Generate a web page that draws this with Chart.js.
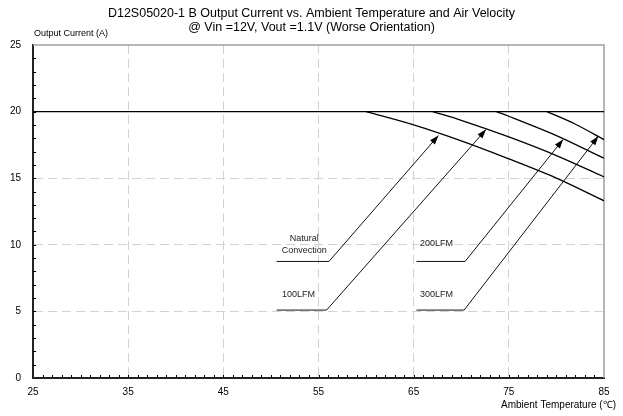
<!DOCTYPE html>
<html>
<head>
<meta charset="utf-8">
<script src="https://cdn.jsdelivr.net/npm/chart.js@4.4.0/dist/chart.umd.min.js"></script>
<style>
  html, body { margin: 0; padding: 0; background: #fff; }
  #wrap { width: 623px; height: 416px; }
</style>
</head>
<body>
<div id="wrap"><canvas id="derating" width="623" height="416"></canvas></div>
<script>
// Derating curves (temperature in C, current in A)
const titleLines = [
  "D12S05020-1 B Output Current vs. Ambient Temperature and Air Velocity",
  "@ Vin =12V, Vout =1.1V (Worse Orientation)",
];
const tempTicks = [25, 35, 45, 55, 65, 75, 85];
const currentTicks = [0, 5, 10, 15, 20, 25];

const limitTemp = [25, 85];
const limitCurrent = [20, 20];
const naturalTemp = [60, 65, 70, 75, 80, 85];
const naturalCurrent = [20, 19.0, 17.8, 16.45, 15.0, 13.3];
const lfm100Temp = [67, 70, 75, 80, 85];
const lfm100Current = [20, 19.35, 18.1, 16.7, 15.1];
const lfm200Temp = [73.7, 75, 80, 85];
const lfm200Current = [20, 19.65, 18.2, 16.5];
const lfm300Temp = [79, 82, 85];
const lfm300Current = [20, 19.05, 17.9];

// leader lines: underline start, underline end, arrow tip
const naturalArrowTemp = [50.6, 56.1, 67.6];
const naturalArrowCurrent = [8.75, 8.75, 18.2];
const lfm100ArrowTemp = [50.6, 55.85, 72.6];
const lfm100ArrowCurrent = [5.1, 5.1, 18.65];
const lfm200ArrowTemp = [65.3, 70.4, 80.7];
const lfm200ArrowCurrent = [8.75, 8.75, 17.9];
const lfm300ArrowTemp = [65.3, 70.3, 84.4];
const lfm300ArrowCurrent = [5.1, 5.1, 18.15];

const labelText = ["Natural", "Convection", "100LFM", "200LFM", "300LFM"];
const labelTemp = [53.5, 53.5, 52.9, 67.4, 67.4];
const labelCurrent = [10.5, 9.55, 6.25, 10.1, 6.25];

const FONT = '"Liberation Sans", Arial, sans-serif';

function pts(xs, ys) {
  return xs.map((x, i) => ({ x: x, y: ys[i] }));
}

function curve(label, xs, ys) {
  return {
    label: label,
    data: pts(xs, ys),
    showLine: true,
    borderColor: "#000",
    borderWidth: 1.3,
    pointRadius: 0,
    cubicInterpolationMode: "monotone",
    fill: false,
  };
}

function leader(label, xs, ys) {
  return {
    label: label,
    data: pts(xs, ys),
    showLine: true,
    borderColor: "#111",
    borderWidth: 1,
    pointRadius: 0,
    tension: 0,
    fill: false,
    isLeader: true,
  };
}

const extras = {
  id: "extras",
  beforeDatasetsDraw(chart) {
    const ctx = chart.ctx;
    const area = chart.chartArea;
    const xs = chart.scales.x;
    const ys = chart.scales.y;
    ctx.save();
    // grey frame on top and right
    ctx.strokeStyle = "#a0a0a0";
    ctx.lineWidth = 1.5;
    ctx.beginPath();
    ctx.moveTo(area.left, area.top);
    ctx.lineTo(area.right, area.top);
    ctx.lineTo(area.right, area.bottom);
    ctx.stroke();
    // small inner ticks
    ctx.strokeStyle = "#000";
    ctx.lineWidth = 1;
    ctx.beginPath();
    for (let t = 26; t < 85; t++) {
      const px = Math.round(xs.getPixelForValue(t)) + 0.5;
      ctx.moveTo(px, area.bottom);
      ctx.lineTo(px, area.bottom - 3);
    }
    for (let a = 1; a < 25; a++) {
      const py = Math.round(ys.getPixelForValue(a)) + 0.5;
      ctx.moveTo(area.left, py);
      ctx.lineTo(area.left + 3, py);
    }
    ctx.stroke();
    ctx.restore();
  },
  afterDatasetsDraw(chart) {
    const ctx = chart.ctx;
    const area = chart.chartArea;
    const xs = chart.scales.x;
    const ys = chart.scales.y;
    ctx.save();
    // arrow heads at the end of each leader line
    ctx.fillStyle = "#000";
    chart.data.datasets.forEach((ds) => {
      if (!ds.isLeader) return;
      const n = ds.data.length;
      const p1 = ds.data[n - 2], p2 = ds.data[n - 1];
      const x1 = xs.getPixelForValue(p1.x), y1 = ys.getPixelForValue(p1.y);
      const x2 = xs.getPixelForValue(p2.x), y2 = ys.getPixelForValue(p2.y);
      const ang = Math.atan2(y2 - y1, x2 - x1);
      const len = 9, half = 3.2;
      ctx.beginPath();
      ctx.moveTo(x2, y2);
      ctx.lineTo(x2 - len * Math.cos(ang) + half * Math.sin(ang), y2 - len * Math.sin(ang) - half * Math.cos(ang));
      ctx.lineTo(x2 - len * Math.cos(ang) - half * Math.sin(ang), y2 - len * Math.sin(ang) + half * Math.cos(ang));
      ctx.closePath();
      ctx.fill();
    });
    // curve labels
    ctx.fillStyle = "#222";
    ctx.font = "9px " + FONT;
    ctx.textAlign = "center";
    ctx.textBaseline = "middle";
    labelText.forEach((txt, i) => {
      ctx.fillText(txt, xs.getPixelForValue(labelTemp[i]), ys.getPixelForValue(labelCurrent[i]));
    });
    // titles
    ctx.fillStyle = "#000";
    ctx.font = "12.5px " + FONT;
    ctx.fillText(titleLines[0], chart.width / 2, 14);
    ctx.fillText(titleLines[1], chart.width / 2, 27.5);
    ctx.font = "9px " + FONT;
    ctx.textAlign = "left";
    ctx.fillText("Output Current (A)", area.left + 1, 34);
    ctx.font = "10px " + FONT;
    ctx.textAlign = "right";
    ctx.fillText("Ambient Temperature (\u2103)", area.right + 12, 405);
    ctx.restore();
  },
};

new Chart(document.getElementById("derating"), {
  type: "scatter",
  data: {
    datasets: [
      curve("Limit", limitTemp, limitCurrent),
      curve("Natural Convection", naturalTemp, naturalCurrent),
      curve("100LFM", lfm100Temp, lfm100Current),
      curve("200LFM", lfm200Temp, lfm200Current),
      curve("300LFM", lfm300Temp, lfm300Current),
      leader("Natural Convection arrow", naturalArrowTemp, naturalArrowCurrent),
      leader("100LFM arrow", lfm100ArrowTemp, lfm100ArrowCurrent),
      leader("200LFM arrow", lfm200ArrowTemp, lfm200ArrowCurrent),
      leader("300LFM arrow", lfm300ArrowTemp, lfm300ArrowCurrent),
    ],
  },
  options: {
    responsive: false,
    animation: false,
    layout: { padding: { top: 45, right: 19, left: 0, bottom: 0 } },
    plugins: {
      legend: { display: false },
      tooltip: { enabled: false },
      title: { display: false },
    },
    scales: {
      x: {
        type: "linear",
        min: 25,
        max: 85,
        afterBuildTicks: (scale) => {
          scale.ticks = tempTicks.map((v) => ({ value: v }));
        },
        afterFit: (scale) => {
          scale.height = 38;
        },
        ticks: {
          color: "#000",
          font: { family: FONT, size: 10 },
          padding: 8,
          maxRotation: 0,
          autoSkip: false,
        },
        grid: {
          drawTicks: false,
          color: (c) => (c.tick && (c.tick.value === 25 || c.tick.value === 85) ? "rgba(0,0,0,0)" : "#d2d2d2"),
          lineWidth: 1,
        },
        border: { display: true, color: "#222", width: 2, dash: [9, 5] },
      },
      y: {
        type: "linear",
        min: 0,
        max: 25,
        afterBuildTicks: (scale) => {
          scale.ticks = currentTicks.map((v) => ({ value: v }));
        },
        afterFit: (scale) => {
          scale.width = 33;
        },
        ticks: {
          color: "#000",
          font: { family: FONT, size: 10 },
          padding: 12,
          autoSkip: false,
        },
        grid: {
          drawTicks: false,
          color: (c) => (c.tick && (c.tick.value === 0 || c.tick.value === 25) ? "rgba(0,0,0,0)" : "#d2d2d2"),
          lineWidth: 1,
        },
        border: { display: true, color: "#222", width: 2, dash: [9, 5] },
      },
    },
  },
  plugins: [extras],
});
</script>
</body>
</html>
